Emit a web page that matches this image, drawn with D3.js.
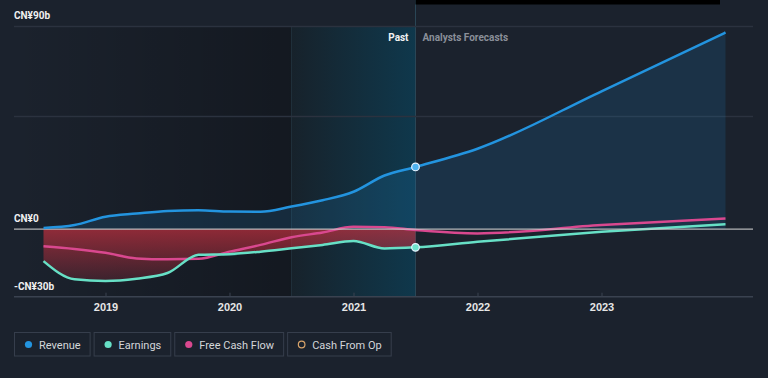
<!DOCTYPE html>
<html><head><meta charset="utf-8">
<script src="https://cdn.jsdelivr.net/npm/d3@7/dist/d3.min.js"></script>
<style>
html,body{margin:0;padding:0;background:#1b222d;}
svg{display:block;font-family:Roboto,"Noto Sans",sans-serif;}
</style></head>
<body>
<svg id="c" width="768" height="378"></svg>
<script>
// ---- data (CN¥ billions, fractional years) ----
const pastDates      = [2018.5, 2018.75, 2019.0, 2019.25, 2019.5, 2019.75, 2020.0, 2020.25, 2020.5, 2020.75, 2021.0, 2021.25, 2021.5];
const revenuePast    = [0.5, 1.8, 5.5, 6.9, 8.1, 8.4, 7.8, 7.7, 10.0, 12.8, 16.6, 23.8, 27.6];
const earningsPast   = [-14.2, -22.3, -23.0, -22.0, -19.5, -11.4, -11.1, -10.0, -8.5, -7.0, -5.3, -8.6, -8.1];
const fcfPast        = [-7.6, -8.8, -10.5, -13.0, -13.4, -13.2, -10.0, -7.0, -3.6, -1.5, 1.0, 0.8, -0.4];
const forecastDates  = [2022.0, 2023.0, 2024.0];
const revenueFcst    = [35.7, 61.2, 87.3];
const earningsFcst   = [-5.6, -1.2, 2.2];
const fcfFcst        = [-1.9, 1.8, 4.7];
const yearTicks      = [2019, 2020, 2021, 2022, 2023];
const yTickLabels    = [[90, "CN¥90b"], [0, "CN¥0"], [-30, "-CN¥30b"]];
const gridValues     = [90, 50];
const legendLabels   = ["Revenue", "Earnings", "Free Cash Flow", "Cash From Op"];
const pastStart = 2020.5, nowDate = 2021.5;

const colors = {rev:"#2394df", earn:"#67e0c6", fcf:"#d9488f", cfo:"#d9a46a"};

(function(){
const svg = d3.select("#c");
const x = d3.scaleLinear().domain([2019, 2023]).range([105.5, 601.5]);
const y = d3.scaleLinear().domain([-30, 90]).range([296.7, 26.4]);
const pl = 14, pr = 753, pt = y(90), pb = y(-30);

const defs = svg.append("defs");
const gDark = defs.append("linearGradient").attr("id","gDark").attr("x1","0").attr("x2","1").attr("y1","0").attr("y2","0");
gDark.append("stop").attr("offset","0").attr("stop-color","#000").attr("stop-opacity",0);
gDark.append("stop").attr("offset","1").attr("stop-color","#000").attr("stop-opacity",0.28);
const gTeal = defs.append("linearGradient").attr("id","gTeal").attr("x1","0").attr("x2","1").attr("y1","0").attr("y2","0");
gTeal.append("stop").attr("offset","0").attr("stop-color","#17222b");
gTeal.append("stop").attr("offset","1").attr("stop-color","#0f384c");
const gRed = defs.append("linearGradient").attr("id","gRed").attr("gradientUnits","userSpaceOnUse")
  .attr("x1",0).attr("x2",0).attr("y1",y(0)).attr("y2",y(-30));
gRed.append("stop").attr("offset","0").attr("stop-color","#c2303f").attr("stop-opacity",0.7);
gRed.append("stop").attr("offset","1").attr("stop-color","#c2303f").attr("stop-opacity",0.05);

// background bands
svg.append("rect").attr("x",pl).attr("y",pt).attr("width",x(pastStart)-pl).attr("height",pb-pt).attr("fill","url(#gDark)");
svg.append("rect").attr("x",x(pastStart)).attr("y",pt).attr("width",x(nowDate)-x(pastStart)).attr("height",pb-pt).attr("fill","url(#gTeal)");
svg.append("line").attr("x1",x(pastStart)).attr("x2",x(pastStart)).attr("y1",pt).attr("y2",pb)
  .attr("stroke","#1f2f3a").attr("stroke-width",1);
svg.append("line").attr("x1",x(nowDate)).attr("x2",x(nowDate)).attr("y1",0).attr("y2",pb)
  .attr("stroke","#2a4656").attr("stroke-width",1);
svg.append("rect").attr("x",x(nowDate)).attr("y",0).attr("width",720-x(nowDate)).attr("height",4.5).attr("fill","#000");

// grid
svg.selectAll("line.grid").data(gridValues).join("line").attr("class","grid")
  .attr("x1",pl).attr("x2",pr).attr("y1",d=>y(d)).attr("y2",d=>y(d))
  .attr("stroke","#2b323f").attr("stroke-width",1.5);

// series
const allDates = pastDates.concat(forecastDates);
const rev = allDates.map((d,i)=>[d, revenuePast.concat(revenueFcst)[i]]);
const earn = allDates.map((d,i)=>[d, earningsPast.concat(earningsFcst)[i]]);
const fcf = allDates.map((d,i)=>[d, fcfPast.concat(fcfFcst)[i]]);
const earnPast = pastDates.map((d,i)=>[d, earningsPast[i]]);

const line = d3.line().x(d=>x(d[0])).y(d=>y(d[1])).curve(d3.curveMonotoneX);
const area = d3.area().x(d=>x(d[0])).y0(y(0)).y1(d=>y(d[1])).curve(d3.curveMonotoneX);

svg.append("path").attr("d",area(rev)).attr("fill",colors.rev).attr("fill-opacity",0.15);
svg.append("path").attr("d",area(earnPast)).attr("fill","url(#gRed)");

// axis
svg.append("line").attr("x1",pl).attr("x2",pr).attr("y1",pb).attr("y2",pb).attr("stroke","#3a4250").attr("stroke-width",1.5);
const xAxis = d3.axisBottom(x).tickValues(yearTicks).tickFormat(d3.format("d")).tickSize(0).tickPadding(0);
const ax = svg.append("g").attr("transform",`translate(0,${pb})`).call(xAxis);
ax.select(".domain").remove();
ax.selectAll("text").attr("fill","#e6e6e6").attr("font-size",11).attr("font-weight","bold").attr("dy",null).attr("y",14.5);
ax.selectAll(".tick").append("line").attr("y1",-4).attr("y2",0).attr("stroke","#3a4250");

svg.append("path").attr("d",line(fcf)).attr("fill","none").attr("stroke",colors.fcf).attr("stroke-width",2.5);
svg.append("path").attr("d",line(earn)).attr("fill","none").attr("stroke",colors.earn).attr("stroke-width",2.5);
svg.append("line").attr("x1",pl).attr("x2",pr).attr("y1",y(0)).attr("y2",y(0)).attr("stroke","#d0d0d0").attr("stroke-width",1.3).attr("stroke-opacity",0.85);
svg.append("path").attr("d",line(rev)).attr("fill","none").attr("stroke",colors.rev).attr("stroke-width",2.5);

// now markers
const nowIdx = pastDates.length-1;
[[revenuePast[nowIdx],"#4fb3ef"],[earningsPast[nowIdx],"#6fe3cc"]].forEach(([v,c])=>{
  svg.append("circle").attr("cx",x(nowDate)).attr("cy",y(v)).attr("r",3.8).attr("fill",c).attr("stroke","#e8f4ff").attr("stroke-width",1.2);
});

// y labels
svg.selectAll("text.yl").data(yTickLabels).join("text").attr("class","yl")
  .attr("x",pl).attr("y",d=>y(d[0])-(d[0]===-30?7:7.5)).text(d=>d[1])
  .attr("fill","#f0f0f0").attr("font-size",10).attr("font-weight","bold");

svg.append("text").attr("x",x(nowDate)-7).attr("y",40.5).attr("text-anchor","end").text("Past")
  .attr("fill","#f2f2f2").attr("font-size",10).attr("font-weight","bold");
svg.append("text").attr("x",x(nowDate)+7).attr("y",40.5).text("Analysts Forecasts")
  .attr("fill","#8a8f99").attr("font-size",10).attr("font-weight","bold");

// legend
const legColors = [colors.rev, colors.earn, colors.fcf, null];
let lx = 14.5;
legendLabels.forEach((lab,i)=>{
  const g = svg.append("g");
  const t = g.append("text").attr("x",lx+24.5).attr("y",348.5).text(lab).attr("fill","#d4d6da").attr("font-size",11);
  const w = t.node().getComputedTextLength();
  const bw = w + 24.5 + 9.5;
  g.insert("rect","text").attr("x",lx).attr("y",332.5).attr("width",bw).attr("height",23.5).attr("fill","none").attr("stroke","#363e4c").attr("stroke-width",1);
  if (legColors[i]) g.append("circle").attr("cx",lx+14).attr("cy",344.5).attr("r",3.6).attr("fill",legColors[i]);
  else g.append("circle").attr("cx",lx+14).attr("cy",344.5).attr("r",3.3).attr("fill","none").attr("stroke",colors.cfo).attr("stroke-width",1.2);
  lx += bw + 4;
});
})();
</script>
</body></html>
